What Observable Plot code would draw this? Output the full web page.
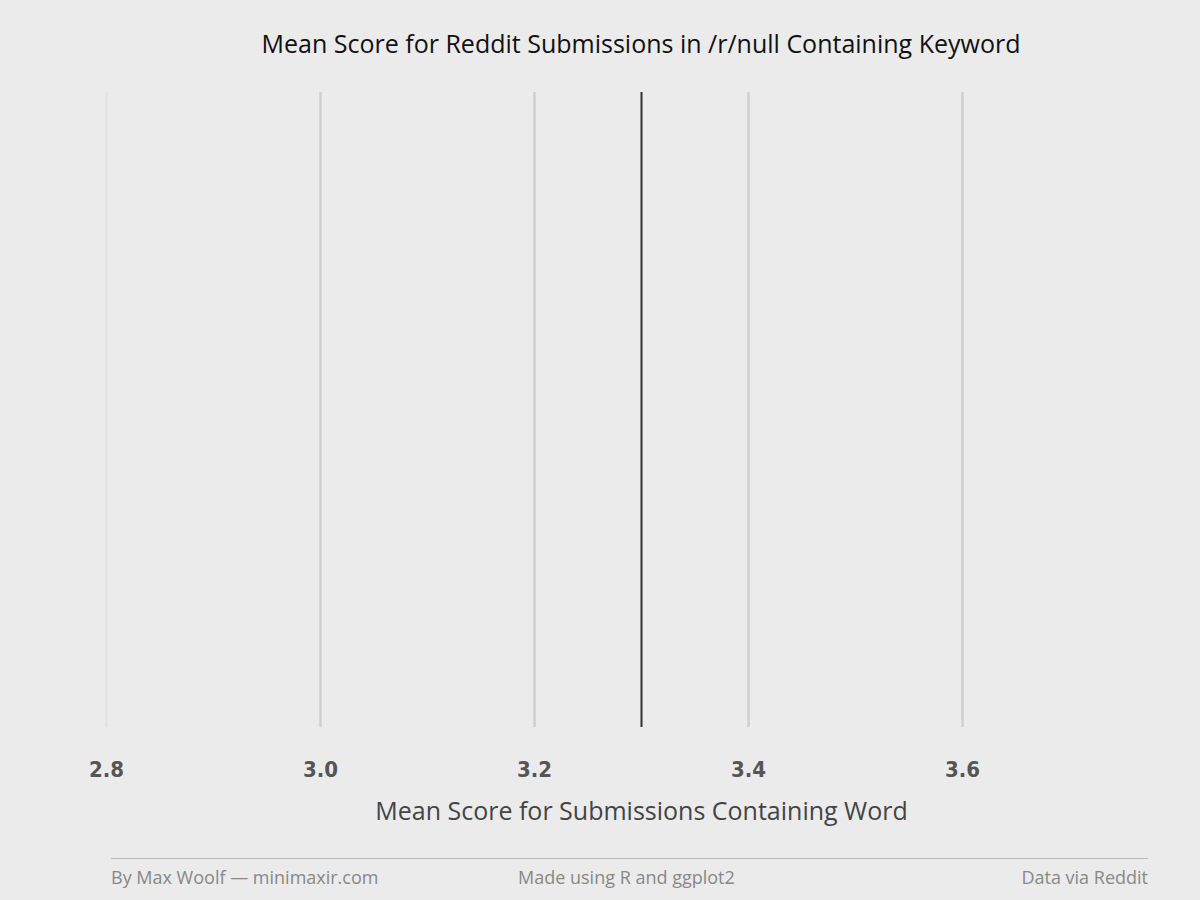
<!DOCTYPE html>
<html lang="en">
<head>
<meta charset="UTF-8">
<script src="https://cdn.jsdelivr.net/npm/d3@7"></script>
<script src="https://cdn.jsdelivr.net/npm/@observablehq/plot@0.6"></script>
<style>
  body { margin: 0; background: #ebebeb; font-family: "Open Sans", "Noto Sans", sans-serif; }
  #wrap { position: relative; width: 1200px; height: 900px; background: #ebebeb; overflow: hidden; }
  #chart { position: absolute; left: 0; top: 0; }
  .title { position: absolute; top: 26px; left: 0; width: 1282px; text-align: center; font-size: 25px; color: #111; }
  .foot { position: absolute; top: 865px; font-size: 18px; color: #888; }
  .rule { position: absolute; top: 858px; left: 111px; width: 1037px; height: 0; border-top: 1.5px solid #bbb; }
</style>
</head>
<body>
<div id="wrap">
  <div id="chart"></div>
  <div class="title">Mean Score for Reddit Submissions in /r/null Containing Keyword</div>
  <div class="rule"></div>
  <div class="foot" style="left:111px">By Max Woolf — minimaxir.com</div>
  <div class="foot" style="left:518px">Made using R and ggplot2</div>
  <div class="foot" style="right:52px">Data via Reddit</div>
</div>
<script>
const tickValues = [2.8, 3.0, 3.2, 3.4, 3.6];
const meanScore = [3.3];

const plot = Plot.plot({
  width: 1200,
  height: 900,
  marginLeft: 106,
  marginRight: 238,
  marginTop: 92,
  marginBottom: 173,
  style: { background: "#ebebeb", fontFamily: "DejaVu Sans Condensed, sans-serif" },
  x: { domain: [2.8, 3.6] },
  marks: [
    Plot.ruleX(tickValues.filter(d => d > 2.8), { stroke: "#cfcfcf", strokeWidth: 2.5 }),
    Plot.ruleX(tickValues.filter(d => d === 2.8), { stroke: "#e3e3e3", strokeWidth: 2.5 }),
    Plot.ruleX(meanScore, { stroke: "#333", strokeWidth: 2 }),
    Plot.axisX(tickValues, {
      tickSize: 0, tickPadding: 34, fontSize: 22, fontWeight: "bold", fill: "#555",
      tickFormat: d3.format(".1f"),
      label: null
    }),
    Plot.text(["Mean Score for Submissions Containing Word"], {
      frameAnchor: "bottom", dy: 92, x: 3.3, fontSize: 25, fill: "#444",
      fontFamily: "Open Sans, sans-serif"
    })
  ]
});
document.querySelector("#chart").append(plot);
</script>
</body>
</html>
